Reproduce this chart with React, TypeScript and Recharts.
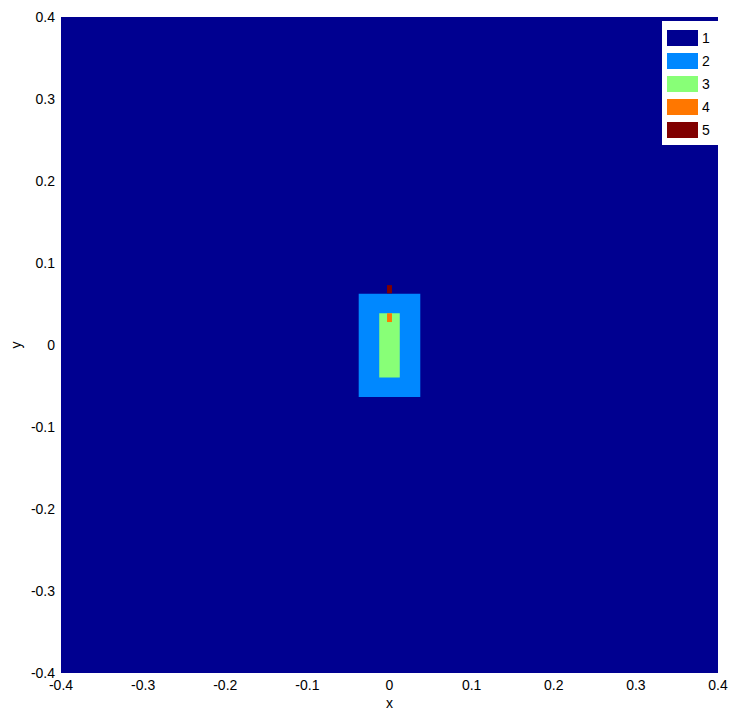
import React from 'react';
import { ComposedChart, XAxis, YAxis, ReferenceArea, Scatter, Label } from 'recharts';

const levels = ['1', '2', '3', '4', '5'];
const levelColors = ['#000090', '#0088FF', '#88FF77', '#FF7700', '#800000'];
const axisTicks = [-0.4, -0.3, -0.2, -0.1, 0, 0.1, 0.2, 0.3, 0.4];

// regions: level index, x range, y range (data units)
const regionLevel = [0, 1, 2, 3, 4];
const regionX1 = [-0.4, -0.0375, -0.0125, -0.003, -0.003];
const regionX2 = [0.4, 0.0375, 0.0125, 0.003, 0.003];
const regionY1 = [-0.4, -0.0635, -0.0395, 0.028, 0.063];
const regionY2 = [0.4, 0.0625, 0.0387, 0.0387, 0.073];

const points = regionLevel.map((l, i) => ({
  x: (regionX1[i] + regionX2[i]) / 2,
  y: (regionY1[i] + regionY2[i]) / 2,
}));

const font = '"Liberation Sans", Arial, sans-serif';

const LegendBox = () => (
  <div
    style={{
      position: 'absolute',
      left: 662,
      top: 21,
      background: '#fff',
      width: 56,
      padding: '5px 0 4px 0',
      boxSizing: 'border-box',
      fontFamily: font,
      fontSize: 14,
    }}
  >
    {levels.map((lv, i) => (
      <div key={lv} style={{ display: 'flex', alignItems: 'center', height: 23 }}>
        <div style={{ width: 31, height: 16, background: levelColors[i], marginLeft: 5 }} />
        <span style={{ marginLeft: 4, color: '#000', lineHeight: '14px' }}>{lv}</span>
      </div>
    ))}
  </div>
);

const YLabel = (props: any) => {
  const vb = props.viewBox || {};
  const cx = 16;
  const cy = vb.y + vb.height / 2;
  return (
    <text x={cx} y={cy} transform={`rotate(-90 ${cx} ${cy})`} textAnchor="middle" dominantBaseline="central" fontFamily={font} fontSize={14} fill="#000">
      y
    </text>
  );
};

const XLabel = (props: any) => {
  const vb = props.viewBox || {};
  const cx = vb.x + vb.width / 2;
  return (
    <text x={cx} y={708} textAnchor="middle" fontFamily={font} fontSize={14} fill="#000">
      x
    </text>
  );
};

export default function App() {
  return (
    <div style={{ width: 733, height: 711, position: 'absolute', left: 0, top: 0 }}>
      <ComposedChart width={733} height={711} margin={{ top: 17, right: 15, bottom: 0, left: 0 }}>
        <XAxis
          type="number"
          dataKey="x"
          domain={[-0.4, 0.4]}
          ticks={axisTicks}
          allowDataOverflow
          tickLine={false}
          axisLine={false}
          tickSize={0}
          tickMargin={7}
          height={38}
          interval={0}
          tick={{ fill: '#000', fontSize: 14, fontFamily: font }}
          tickFormatter={(v: number) => String(Math.round(v * 10) / 10)}
        >
          <Label content={<XLabel />} />
        </XAxis>
        <YAxis
          type="number"
          dataKey="y"
          domain={[-0.4, 0.4]}
          ticks={axisTicks}
          allowDataOverflow
          tickLine={false}
          axisLine={false}
          tickSize={0}
          tickMargin={6}
          width={61}
          interval={0}
          tick={{ fill: '#000', fontSize: 14, fontFamily: font }}
          tickFormatter={(v: number) => String(Math.round(v * 10) / 10)}
        >
          <Label content={<YLabel />} />
        </YAxis>
        {regionLevel.map((l, i) => (
          <ReferenceArea
            key={i}
            x1={regionX1[i]}
            x2={regionX2[i]}
            y1={regionY1[i]}
            y2={regionY2[i]}
            fill={levelColors[l]}
            fillOpacity={1}
            stroke="none"
            ifOverflow="visible"
          />
        ))}
        <Scatter data={points} dataKey="y" fill="none" legendType="none" isAnimationActive={false} shape={() => <g />} />
      </ComposedChart>
      <LegendBox />
    </div>
  );
}
